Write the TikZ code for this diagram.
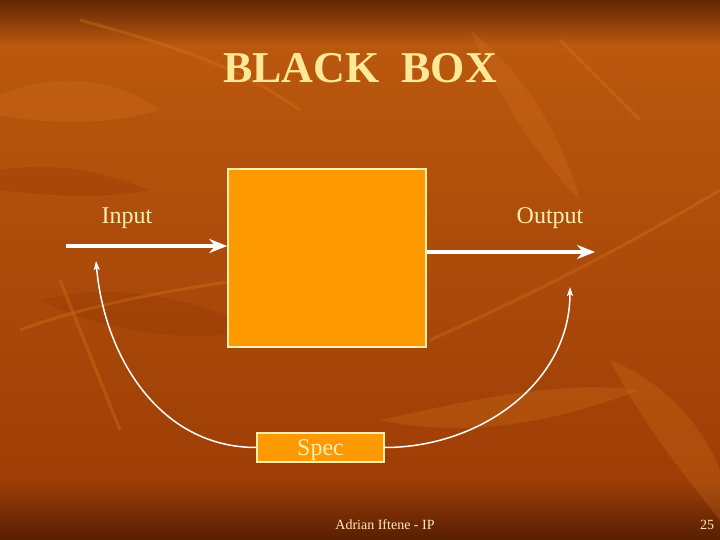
\documentclass[tikz,border=0pt]{standalone}
\usepackage{fontspec}
\setmainfont{Liberation Serif}
\usetikzlibrary{positioning,arrows.meta}
\definecolor{bbtop}{RGB}{96,38,4}
\definecolor{bbmid}{RGB}{186,88,14}
\definecolor{bblow}{RGB}{158,62,6}
\definecolor{bbbottom}{RGB}{88,30,2}
\definecolor{bbleaf}{RGB}{214,120,30}
\definecolor{bbdark}{RGB}{140,50,4}
\definecolor{bborange}{RGB}{255,153,0}
\definecolor{bbcream}{RGB}{255,238,176}
\definecolor{bbtitle}{RGB}{255,232,150}

\begin{document}
\begin{tikzpicture}[
  x=1pt, y=-1pt,
  blackbox/.style={rectangle, draw=bbcream, fill=bborange, line width=1.6pt, minimum width=198pt, minimum height=178pt, inner sep=0pt},
  specbox/.style={rectangle, draw=bbcream, fill=bborange, line width=1.4pt, minimum width=127pt, minimum height=29pt, inner sep=0pt, text depth=0pt, text=bbcream, font=\fontsize{24}{26}\selectfont},
  label/.style={text=bbcream, text depth=0pt, font=\fontsize{24}{26}\selectfont},
  footer/.style={text=bbcream, text depth=0pt, font=\fontsize{14}{16}\selectfont},
  flow/.style={-{Stealth[length=18pt,width=14pt,inset=6pt]}, line width=4pt, draw=white},
  feedback/.style={-{Stealth[length=9pt,width=6pt,inset=2pt]}, line width=1.5pt, draw=white}
]
\useasboundingbox (0,0) rectangle (720,540);

% Background
\shade[top color=bbtop, bottom color=bbmid] (0,0) rectangle (720,45);
\shade[top color=bbmid, bottom color=bblow] (0,45) rectangle (720,480);
\shade[top color=bblow, bottom color=bbbottom] (0,480) rectangle (720,540);

% Leaves
\begin{scope}[opacity=0.25]
\fill[bbleaf] (0,95) .. controls (60,70) and (120,80) .. (160,110) .. controls (110,125) and (50,125) .. (0,115) -- cycle;
\fill[bbdark] (0,170) .. controls (60,160) and (110,175) .. (150,190) .. controls (100,200) and (40,195) .. (0,190) -- cycle;
\fill[bbleaf] (470,30) .. controls (520,70) and (560,130) .. (580,200) .. controls (540,160) and (500,100) .. (470,30) -- cycle;
\fill[bbleaf] (610,360) .. controls (660,380) and (700,420) .. (720,470) -- (720,520) .. controls (680,470) and (640,420) .. (610,360) -- cycle;
\fill[bbdark] (40,300) .. controls (120,280) and (200,300) .. (260,330) .. controls (180,345) and (100,330) .. (40,300) -- cycle;
\fill[bbleaf] (380,420) .. controls (470,400) and (560,380) .. (640,390) .. controls (560,420) and (470,440) .. (380,420) -- cycle;
\end{scope}
\begin{scope}[opacity=0.35, draw=bbleaf, line width=3pt]
\draw (20,330) .. controls (100,300) and (220,280) .. (330,270);
\draw (60,280) -- (120,430);
\draw (430,340) .. controls (520,300) and (620,250) .. (720,190);
\draw (560,40) -- (640,120);
\draw (80,20) .. controls (150,40) and (230,60) .. (300,110);
\end{scope}

% Title
\node[text=bbtitle, text depth=0pt, font=\fontsize{44}{48}\selectfont\bfseries] (title) at (360,68) {BLACK\ \ BOX};

% Black box and spec
\node[blackbox] (bb) at (327,258) {};
\node[specbox] (spec) at (320.5,447.5) {Spec};

% Input and output
\node[label] (inLabel) at (127,216) {Input};
\node[label] (outLabel) at (550,216) {Output};
\coordinate (inStart) at (66,246);
\coordinate (outEnd) at (595,252);
\draw[flow] (inStart) -- (bb.west |- inStart);
\draw[flow] (bb.east |- outEnd) -- (outEnd);

% Feedback from spec
\coordinate (inTip) at (96,261);
\coordinate (outTip) at (570,287);
\draw[feedback] (spec.west) to[out=180,in=-85] (inTip);
\draw[feedback] (spec.east) to[out=0,in=-90] (outTip);

% Footer
\node[footer] (author) at (385,525) {Adrian Iftene - IP};
\node[footer] (page) at (707,525) {25};

\end{tikzpicture}
\end{document}
